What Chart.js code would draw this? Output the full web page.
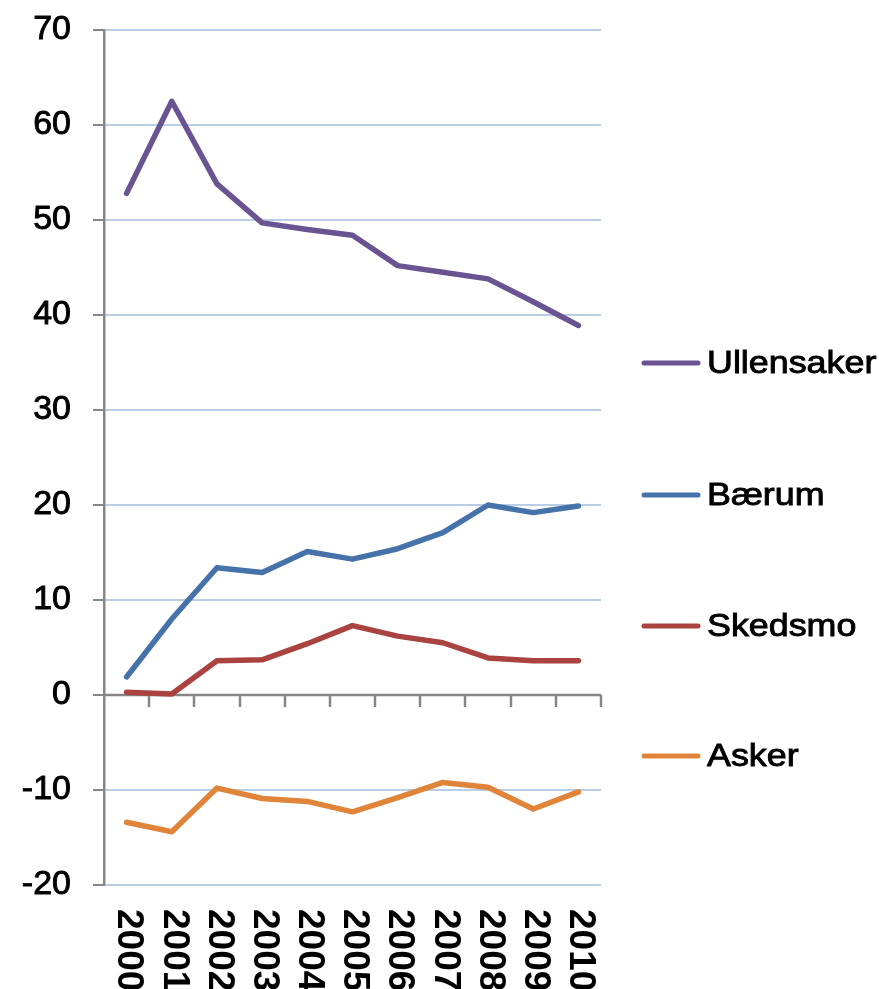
<!DOCTYPE html>
<html>
<head>
<meta charset="utf-8">
<script src="https://cdn.jsdelivr.net/npm/chart.js@4"></script>
<style>
    html, body { margin: 0; padding: 0; background: #fff; }
    #wrap { width: 879px; height: 989px; }
</style>
</head>
<body>
<div id="wrap"><canvas id="myChart" width="879" height="989"></canvas></div>
<script>
var years = ['2000', '2001', '2002', '2003', '2004', '2005', '2006', '2007', '2008', '2009', '2010'];
var ullensaker = [52.8, 62.5, 53.8, 49.7, 49.0, 48.4, 45.2, 44.5, 43.8, 41.4, 38.9];
var baerum = [1.9, 8.0, 13.4, 12.9, 15.1, 14.3, 15.4, 17.1, 20.0, 19.2, 19.9];
var skedsmo = [0.3, 0.1, 3.6, 3.7, 5.4, 7.3, 6.2, 5.5, 3.9, 3.6, 3.6];
var asker = [-13.4, -14.4, -9.8, -10.9, -11.2, -12.3, -10.8, -9.2, -9.7, -12.0, -10.2];
var yMin = -20, yMax = 70, yStep = 10;

var axisGray = '#868686';
var gridBlue = '#b9cde5';

// zero line with category tick marks, rotated year labels, legend at the right
var decorations = {
    id: 'decorations',
    beforeDatasetsDraw: function (chart) {
        var ctx = chart.ctx, y = chart.scales.y;
        var y0 = y.getPixelForValue(0);
        var area = chart.chartArea;
        ctx.save();
        ctx.strokeStyle = axisGray;
        ctx.lineWidth = 2.5;
        ctx.beginPath();
        ctx.moveTo(area.left, y0);
        ctx.lineTo(area.right, y0);
        var step = (area.right - area.left) / years.length;
        for (var i = 1; i <= years.length; i++) {
            var tx = Math.round(area.left + step * i);
            ctx.moveTo(tx, y0);
            ctx.lineTo(tx, y0 + 12);
        }
        ctx.stroke();
        ctx.restore();
    },
    afterDraw: function (chart) {
        var ctx = chart.ctx, x = chart.scales.x;
        ctx.save();
        ctx.fillStyle = '#000';
        ctx.font = 'bold 37px "Liberation Sans", Arial, sans-serif';
        ctx.textAlign = 'left';
        ctx.textBaseline = 'middle';
        years.forEach(function (label, i) {
            var px = x.getPixelForValue(i);
            ctx.save();
            ctx.translate(px + 2, 909);
            ctx.rotate(Math.PI / 2);
            ctx.fillText(label, 0, 0);
            ctx.restore();
        });

        var legendY = [363, 495, 626, 756];
        chart.data.datasets.forEach(function (ds, i) {
            var ly = legendY[i];
            ctx.strokeStyle = ds.borderColor;
            ctx.lineWidth = 5;
            ctx.lineCap = 'round';
            ctx.beginPath();
            ctx.moveTo(644, ly);
            ctx.lineTo(698, ly);
            ctx.stroke();
            ctx.save();
            ctx.translate(707, ly);
            ctx.scale(1.12, 1);
            ctx.font = '32px "Liberation Sans", Arial, sans-serif';
            ctx.fillStyle = '#000';
            ctx.strokeStyle = '#000';
            ctx.lineWidth = 0.9;
            ctx.textAlign = 'left';
            ctx.textBaseline = 'middle';
            ctx.fillText(ds.label, 0, 1);
            ctx.strokeText(ds.label, 0, 1);
            ctx.restore();
        });
        ctx.restore();
    }
};

function series(label, data, color) {
    return {
        label: label,
        data: data,
        borderColor: color,
        backgroundColor: color,
        borderWidth: 5.5,
        pointRadius: 0,
        tension: 0,
        borderJoinStyle: 'round',
        borderCapStyle: 'round'
    };
}

const ctx = document.getElementById('myChart');
new Chart(ctx, {
    type: 'line',
    data: {
        labels: years,
        datasets: [
            series('Ullensaker', ullensaker, '#6a5391'),
            series('Bærum', baerum, '#4672aa'),
            series('Skedsmo', skedsmo, '#aa4340'),
            series('Asker', asker, '#e0843a')
        ]
    },
    options: {
        responsive: false,
        animation: false,
        devicePixelRatio: 1,
        layout: { padding: { left: 0, top: 30, right: 278, bottom: 104 } },
        plugins: {
            legend: { display: false },
            tooltip: { enabled: false }
        },
        scales: {
            x: {
                display: false,
                offset: true
            },
            y: {
                min: yMin,
                max: yMax,
                afterFit: function (scale) {
                    scale.width = 104;
                    scale.paddingTop = 0;
                    scale.paddingBottom = 0;
                },
                ticks: {
                    stepSize: yStep,
                    padding: 22,
                    color: '#000',
                    textStrokeColor: '#000',
                    textStrokeWidth: 0.9,
                    font: { family: '"Liberation Sans", Arial, sans-serif', size: 34 }
                },
                grid: {
                    color: gridBlue,
                    lineWidth: 2,
                    tickLength: 11,
                    tickColor: axisGray
                },
                border: { color: axisGray, width: 2.5 }
            }
        }
    },
    plugins: [decorations]
});
</script>
</body>
</html>
